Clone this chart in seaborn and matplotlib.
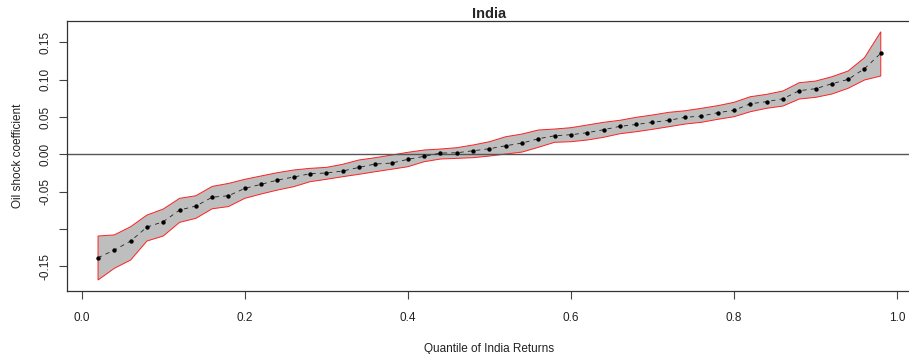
import numpy as np
import pandas as pd
import matplotlib
matplotlib.use("Agg")
import matplotlib.pyplot as plt
import seaborn as sns

quantiles = [0.02, 0.04, 0.06, 0.08, 0.10, 0.12, 0.14, 0.16, 0.18, 0.20,
             0.22, 0.24, 0.26, 0.28, 0.30, 0.32, 0.34, 0.36, 0.38, 0.40,
             0.42, 0.44, 0.46, 0.48, 0.50, 0.52, 0.54, 0.56, 0.58, 0.60,
             0.62, 0.64, 0.66, 0.68, 0.70, 0.72, 0.74, 0.76, 0.78, 0.80,
             0.82, 0.84, 0.86, 0.88, 0.90, 0.92, 0.94, 0.96, 0.98]

coef = [-0.1386, -0.1283, -0.1162, -0.0975, -0.0903, -0.0747, -0.0693, -0.0575, -0.0555, -0.0456,
        -0.0402, -0.0345, -0.0304, -0.0260, -0.0250, -0.0224, -0.0175, -0.0130, -0.0117, -0.0067,
        -0.0027, 0.0017, 0.0021, 0.0048, 0.0075, 0.0115, 0.0151, 0.0209, 0.0249, 0.0263,
        0.0290, 0.0330, 0.0375, 0.0400, 0.0429, 0.0456, 0.0496, 0.0513, 0.0558, 0.0590,
        0.0678, 0.0706, 0.0745, 0.0853, 0.0880, 0.0946, 0.1005, 0.1148, 0.1354]

upper = [-0.1095, -0.1080, -0.0970, -0.0814, -0.0733, -0.0590, -0.0555, -0.0430, -0.0390, -0.0335,
         -0.0290, -0.0246, -0.0210, -0.0188, -0.0175, -0.0134, -0.0076, -0.0045, -0.0010, 0.0027,
         0.0058, 0.0071, 0.0089, 0.0125, 0.0169, 0.0236, 0.0272, 0.0326, 0.0339, 0.0357,
         0.0393, 0.0429, 0.0456, 0.0496, 0.0527, 0.0563, 0.0584, 0.0617, 0.0652, 0.0697,
         0.0772, 0.0804, 0.0849, 0.0960, 0.0982, 0.1040, 0.1117, 0.1295, 0.1643]

lower = [-0.1685, -0.1528, -0.1417, -0.1162, -0.1095, -0.0912, -0.0858, -0.0730, -0.0700, -0.0590,
         -0.0532, -0.0479, -0.0434, -0.0367, -0.0335, -0.0300, -0.0268, -0.0233, -0.0200, -0.0166,
         -0.0099, -0.0063, -0.0054, -0.0045, -0.0023, 0.0004, 0.0030, 0.0094, 0.0161, 0.0169,
         0.0192, 0.0228, 0.0276, 0.0303, 0.0335, 0.0370, 0.0406, 0.0429, 0.0469, 0.0504,
         0.0571, 0.0617, 0.0647, 0.0741, 0.0764, 0.0808, 0.0885, 0.0996, 0.1050]

x_ticks = [0.0, 0.2, 0.4, 0.6, 0.8, 1.0]
x_tick_labels = ["0.0", "0.2", "0.4", "0.6", "0.8", "1.0"]
y_ticks = [-0.15, -0.10, -0.05, 0.00, 0.05, 0.10, 0.15]
y_tick_labels = ["-0.15", "", "-0.05", "0.00", "0.05", "0.10", "0.15"]

df = pd.DataFrame({"q": quantiles, "coef": coef, "upper": upper, "lower": lower})

sns.set_style("ticks")
plt.rcParams["font.family"] = ["Liberation Sans", "DejaVu Sans"]

fig = plt.figure(figsize=(9.09, 3.54), dpi=100)
ax = fig.add_axes([0.0734, 0.1788, 0.930, 0.761])

# confidence band polygon
poly_x = list(df["q"]) + list(df["q"][::-1])
poly_y = list(df["upper"]) + list(df["lower"][::-1])
ax.fill(poly_x, poly_y, facecolor="#BEBEBE", edgecolor="#FF2020", linewidth=0.7, zorder=1)

sns.lineplot(data=df, x="q", y="coef", ax=ax, color="#222222", linewidth=0.6,
             linestyle=(0, (5, 5)), zorder=3, legend=False)
sns.scatterplot(data=df, x="q", y="coef", ax=ax, color="black", s=10,
                edgecolor="black", linewidth=0, zorder=4, legend=False)

ax.axhline(0, color="#555555", linewidth=1.0, zorder=2)

ax.set_xlim(-0.0184, 1.0184)
ax.set_ylim(-0.1828, 0.1783)
ax.set_xticks(x_ticks)
ax.set_xticklabels(x_tick_labels)
ax.set_yticks(y_ticks)
ax.set_yticklabels(y_tick_labels, rotation=90, va="center")

ax.tick_params(axis="both", direction="out", length=6, width=0.8,
               color="#444444", labelsize=8.5, labelcolor="#222222", pad=5)
ax.tick_params(axis="x", pad=9)
for s in ax.spines.values():
    s.set_color("#333333")
    s.set_linewidth(0.9)

ax.set_xlabel("Quantile of India Returns", fontsize=8.5, color="#222222", labelpad=14)
ax.set_ylabel("Oil shock coefficient", fontsize=8.5, color="#222222", labelpad=11)
ax.set_title("India", fontsize=10.5, fontweight="bold", pad=2)

fig.savefig("out.png", dpi=100)
